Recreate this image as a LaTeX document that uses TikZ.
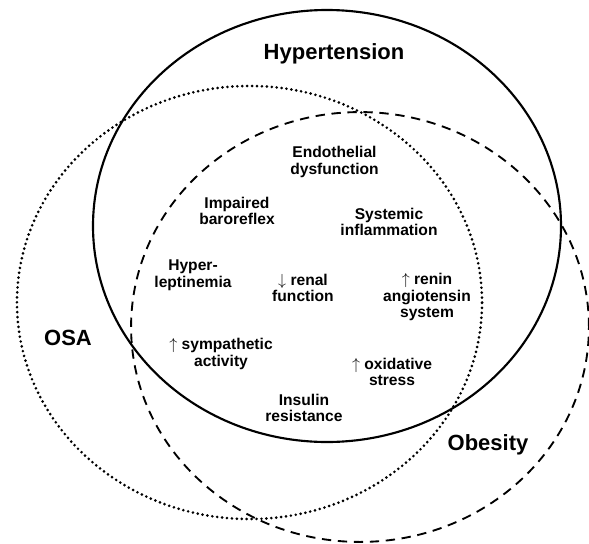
\documentclass[tikz,border=0pt]{standalone}
\usepackage{fontspec}
\setmainfont{Liberation Sans}
\usetikzlibrary{positioning}

\newcommand{\up}{$\uparrow$}
\newcommand{\down}{$\downarrow$}

\begin{document}
\begin{tikzpicture}[
    x=0.75pt, y=-0.75pt,
    title/.style={font=\bfseries\fontsize{16.5}{18}\selectfont},
    factor/.style={align=center, font=\bfseries\fontsize{11.7}{12.6}\selectfont, inner sep=0pt},
    solidset/.style={line width=1.6pt},
    dotset/.style={line width=2.2pt, line cap=round, dash pattern=on 0pt off 3.7pt},
    dashset/.style={line width=1.4pt, dash pattern=on 7pt off 5pt}
    ]
    \useasboundingbox (0,0) rectangle (589,543);

    % the three sets
    \draw[solidset] (327,226) ellipse [x radius=175.5pt, y radius=162pt];
    \draw[dotset] (249.5,302.5) ellipse [x radius=174.4pt, y radius=162.4pt];
    \draw[dashset] (360,327) ellipse [x radius=171.7pt, y radius=161.2pt];

    \node[title] (hyper) at (334,54) {Hypertension};
    \node[title] (osa) at (68,338) {OSA};
    \node[title] (obesity) at (488,445) {Obesity};

    % shared mechanisms
    \node[factor] (endo) at (334.5,162) {Endothelial\\dysfunction};
    \node[factor] (baro) at (237,211) {Impaired\\baroreflex};
    \node[factor] (inflam) at (389,222) {Systemic\\inflammation};
    \node[factor] (leptin) at (193,275) {Hyper-\\leptinemia};
    \node[factor] (renal) at (303,288) {\down{} renal\\function};
    \node[factor] (renin) at (427,297) {\up{} renin\\angiotensin\\system};
    \node[factor] (symp) at (221,354) {\up{} sympathetic\\activity};
    \node[factor] (oxid) at (392,372) {\up{} oxidative\\stress};
    \node[factor] (insulin) at (304,408) {Insulin\\resistance};
\end{tikzpicture}
\end{document}
